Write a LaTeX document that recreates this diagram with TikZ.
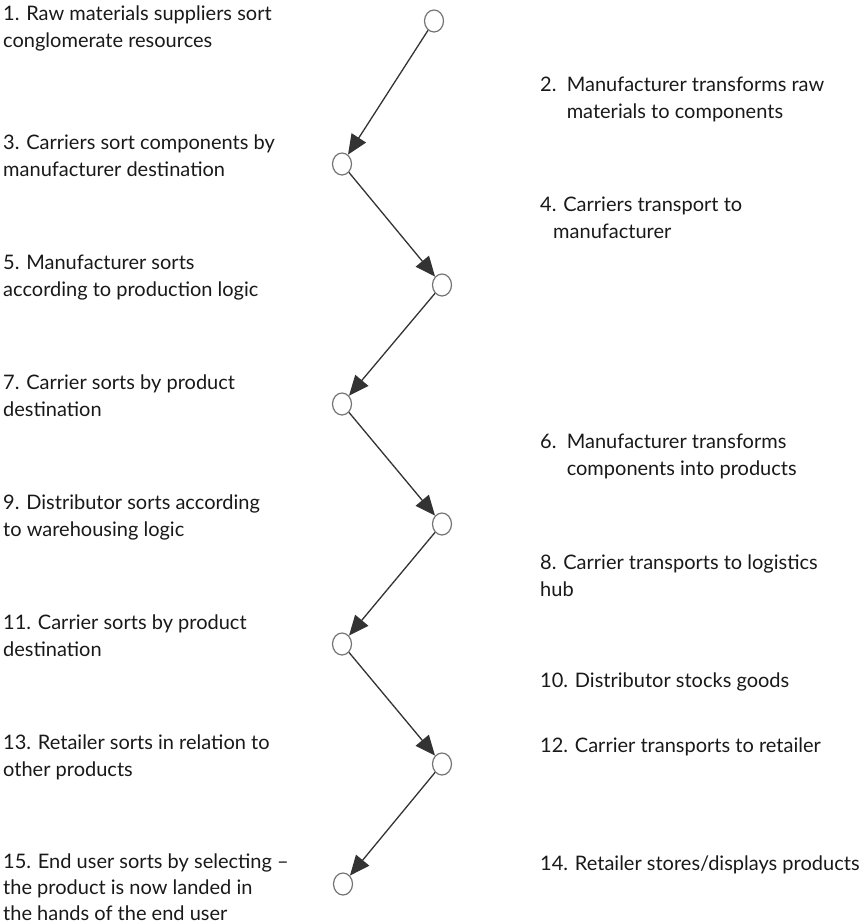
\documentclass[tikz,border=0pt]{standalone}
\usepackage{fontspec}
\setmainfont{Lato}
\usetikzlibrary{arrows.meta,shapes.geometric}
\begin{document}
\begin{tikzpicture}[x=1pt,y=-1pt,
  stage/.style={ellipse, draw=black!55, line width=1.2pt, minimum width=19pt, minimum height=22pt, inner sep=0pt},
  flow/.style={draw=black!80, line width=1.3pt, -{Triangle[length=20pt,width=17pt]}},
  lab/.style={anchor=north west, align=left, inner sep=0pt, text=black!90,
    font=\fontsize{20}{27}\selectfont, execute at begin node=\rule{0pt}{16pt}}]
\useasboundingbox (0,0) rectangle (859,924);

% stage markers, alternating right / left
\node[stage] (s1) at (434,21) {};
\node[stage] (s2) at (342,164) {};
\node[stage] (s3) at (442,285) {};
\node[stage] (s4) at (342,404) {};
\node[stage] (s5) at (442,524) {};
\node[stage] (s6) at (342,644) {};
\node[stage] (s7) at (442,764) {};
\node[stage] (s8) at (343,884) {};

% connectors
\draw[flow] (s1) -- (s2);
\draw[flow] (s2) -- (s3);
\draw[flow] (s3) -- (s4);
\draw[flow] (s4) -- (s5);
\draw[flow] (s5) -- (s6);
\draw[flow] (s6) -- (s7);
\draw[flow] (s7) -- (s8);

% sorting steps (left); y = first baseline - 16
\node[lab] (t1) at (3,6) {1. Raw materials suppliers sort\\conglomerate resources};
\node[lab] (t3) at (3,135) {3. Carriers sort components by\\manufacturer destination};
\node[lab] (t5) at (3,255) {5. Manufacturer sorts\\according to production logic};
\node[lab] (t7) at (3,375) {7. Carrier sorts by product\\destination};
\node[lab] (t9) at (3,495) {9. Distributor sorts according\\to warehousing logic};
\node[lab] (t11) at (3,615) {11. Carrier sorts by product\\destination};
\node[lab] (t13) at (3,735) {13. Retailer sorts in relation to\\other products};
\node[lab, font=\fontsize{20}{26}\selectfont] (t15) at (3,854) {15. End user sorts by selecting –\\the product is now landed in\\the hands of the end user};

% transforming / transporting steps (right)
\node[lab] (t2) at (540,77) {2.\ \ Manufacturer transforms raw\\\hphantom{2.\ \ }materials to components};
\node[lab] (t4) at (540,197) {4. Carriers transport to\\\hspace{13pt}manufacturer};
\node[lab] (t6) at (540,434) {6.\ \ Manufacturer transforms\\\hphantom{6.\ \ }components into products};
\node[lab] (t8) at (540,555) {8. Carrier transports to logistics\\hub};
\node[lab] (t10) at (540,671) {10. Distributor stocks goods};
\node[lab] (t12) at (540,736) {12. Carrier transports to retailer};
\node[lab] (t14) at (540,854) {14. Retailer stores/displays products};
\end{tikzpicture}
\end{document}
